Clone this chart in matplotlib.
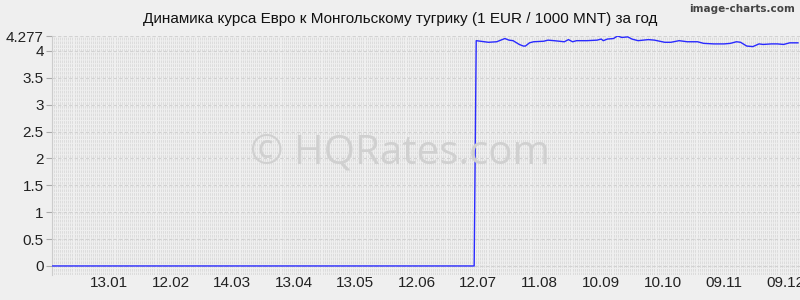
import numpy as np
import pandas as pd
import matplotlib
matplotlib.use("Agg")
import matplotlib.pyplot as plt
import matplotlib.dates as mdates


title = "Динамика курса Евро к Монгольскому тугрику (1 EUR / 1000 MNT) за год"

dates = ["2014-12-16", "2015-07-10",
         "2015-07-11", "2015-07-17", "2015-07-21", "2015-07-23", "2015-07-25", "2015-07-27",
         "2015-07-29", "2015-08-01", "2015-08-03", "2015-08-04", "2015-08-06", "2015-08-08",
         "2015-08-13", "2015-08-15", "2015-08-18", "2015-08-23", "2015-08-25", "2015-08-27",
         "2015-08-29", "2015-09-03", "2015-09-08", "2015-09-10", "2015-09-11", "2015-09-13",
         "2015-09-16", "2015-09-18", "2015-09-20", "2015-09-23", "2015-09-25", "2015-09-28",
         "2015-10-03", "2015-10-06", "2015-10-11", "2015-10-14", "2015-10-18", "2015-10-22",
         "2015-10-27", "2015-10-30", "2015-11-04", "2015-11-09", "2015-11-12", "2015-11-15",
         "2015-11-17", "2015-11-20", "2015-11-23", "2015-11-26", "2015-11-28", "2015-12-02",
         "2015-12-05", "2015-12-08", "2015-12-11", "2015-12-15"]
rates = [0.0, 0.0,
         4.19, 4.16, 4.17, 4.20, 4.23, 4.20,
         4.19, 4.12, 4.09, 4.09, 4.15, 4.17,
         4.18, 4.20, 4.19, 4.17, 4.21, 4.17,
         4.19, 4.19, 4.20, 4.22, 4.19, 4.22,
         4.23, 4.277, 4.25, 4.26, 4.22, 4.19,
         4.21, 4.20, 4.16, 4.16, 4.19, 4.17,
         4.17, 4.14, 4.13, 4.13, 4.14, 4.17,
         4.16, 4.09, 4.08, 4.13, 4.12, 4.13,
         4.13, 4.12, 4.15, 4.15]

y_ticks = [0, 0.5, 1, 1.5, 2, 2.5, 3, 3.5, 4, 4.277]
y_labels = ["0", "0.5", "1", "1.5", "2", "2.5", "3", "3.5", "4", "4.277"]
x_ticks = ["2015-01-13", "2015-02-12", "2015-03-14", "2015-04-13", "2015-05-13", "2015-06-12",
           "2015-07-12", "2015-08-11", "2015-09-10", "2015-10-10", "2015-11-09", "2015-12-09"]

dates = pd.to_datetime(dates)
x_ticks = pd.to_datetime(x_ticks)

plt.rcParams["font.family"] = ["Liberation Sans", "DejaVu Sans"]
bg = "#efefef"

fig = plt.figure(figsize=(8, 3), dpi=100, facecolor=bg)
ax = fig.add_axes([0.065, 0.083, 0.935, 0.797], facecolor=bg)

x0, x1 = dates[0], dates[-1] + pd.Timedelta(days=1)
ax.set_xlim(x0, x1)
ax.set_ylim(-0.17, 4.277)

# dense daily grid, dashed vertical lines
days = pd.date_range(x0, x1, freq="D")
ax.vlines(days, -0.17, 4.277, colors="#dcdcdc", linewidth=0.7,
          linestyles=(0, (2.8, 1.1)), zorder=0)
for y in y_ticks:
    ax.axhline(y, color="#d2d2d2", linewidth=0.8, linestyle=(0, (3, 2)), zorder=0)

fig.text(0.5, 0.49, "© HQRates.com", ha="center", va="center", fontsize=29,
         color="#d0d0d0", family="Open Sans", zorder=1)

ax.plot(dates, rates, color="#2a2aff", linewidth=1.0, zorder=3)

ax.set_yticks(y_ticks)
ax.set_yticklabels(y_labels)
ax.set_xticks(x_ticks)
ax.xaxis.set_major_formatter(mdates.DateFormatter("%d.%m"))
ax.tick_params(axis="y", length=4, color="#aaaaaa", labelsize=11, pad=2, labelcolor="#222222")
ax.tick_params(axis="x", length=0, labelsize=11, pad=1, labelcolor="#222222")
for s in ["top", "right", "bottom"]:
    ax.spines[s].set_visible(False)
ax.spines["left"].set_color("#cccccc")

fig.text(0.5, 0.937, title, ha="center", va="center", fontsize=11, color="#111111")
fig.text(0.994, 0.985, "image-charts.com", ha="right", va="top", fontsize=7.5,
         color="#444444", family="DejaVu Sans", fontweight="bold")

fig.savefig("out.png", dpi=100, facecolor=bg)
